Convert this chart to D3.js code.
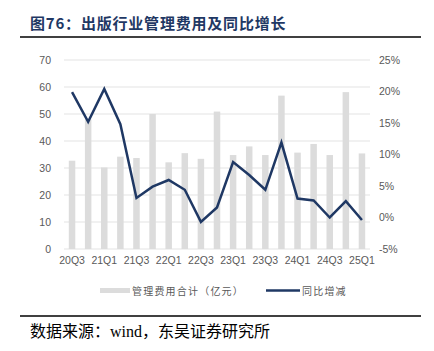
<!DOCTYPE html>
<html>
<head>
<meta charset="utf-8">
<script src="https://cdn.jsdelivr.net/npm/d3@7"></script>
<style>
  body { margin: 0; background: #fff; }
  svg { display: block; }
</style>
</head>
<body>
<div id="chart"></div>
<script>
const quarters = ["20Q3","20Q4","21Q1","21Q2","21Q3","21Q4","22Q1","22Q2","22Q3","22Q4",
                  "23Q1","23Q2","23Q3","23Q4","24Q1","24Q2","24Q3","24Q4","25Q1"];
const expense = [32.7, 48, 30.2, 34.2, 33.7, 50, 32.1, 35.5, 33.4, 50.9,
                 34.8, 38.0, 34.8, 56.8, 35.7, 38.9, 34.8, 58.1, 35.4];
const yoy = [19.9, 15.2, 20.4, 14.8, 3.1, 4.9, 5.95, 4.4, -0.7, 1.6,
             8.8, 6.75, 4.4, 11.9, 3.0, 2.7, 0.0, 2.6, -0.4];
const leftTicks = [0, 10, 20, 30, 40, 50, 60, 70];
const rightTicks = [-5, 0, 5, 10, 15, 20, 25];

const width = 434, height = 351;
const plot = { left: 64, right: 370, top: 60, bottom: 249 };
const grey = "#595959";
const navy = "#1f3864";

const svg = d3.select("#chart").append("svg")
    .attr("width", width)
    .attr("height", height);

// title
svg.append("text")
    .attr("x", 30).attr("y", 29)
    .attr("fill", navy)
    .attr("font-family", "'Noto Sans CJK SC', sans-serif")
    .attr("font-weight", "bold")
    .attr("font-size", 15)
    .attr("letter-spacing", 0.8)
    .text("图76：出版行业管理费用及同比增长");
svg.append("line")
    .attr("x1", 20).attr("x2", 421).attr("y1", 37).attr("y2", 37)
    .attr("stroke", "#000").attr("stroke-width", 1.5);

const x = d3.scaleBand()
    .domain(quarters)
    .range([plot.left, plot.right]);

const yL = d3.scaleLinear().domain([0, 70]).range([plot.bottom, plot.top]);
const yR = d3.scaleLinear().domain([-5, 25]).range([plot.bottom, plot.top]);

// gridlines
svg.append("g").selectAll("line")
    .data(leftTicks)
    .join("line")
    .attr("x1", plot.left).attr("x2", plot.right)
    .attr("y1", d => yL(d)).attr("y2", d => yL(d))
    .attr("stroke", "#e3e3e3").attr("stroke-width", 1);

// bars
const barW = 6.5;
svg.append("g").selectAll("rect")
    .data(expense)
    .join("rect")
    .attr("x", (d, i) => x(quarters[i]) + x.bandwidth() / 2 - barW / 2)
    .attr("y", d => yL(d))
    .attr("width", barW)
    .attr("height", d => yL(0) - yL(d))
    .attr("fill", "#dcdcdc");

// line
const line = d3.line()
    .x((d, i) => x(quarters[i]) + x.bandwidth() / 2)
    .y(d => yR(d));
svg.append("path")
    .datum(yoy)
    .attr("d", line)
    .attr("fill", "none")
    .attr("stroke", navy)
    .attr("stroke-width", 2.5)
    .attr("stroke-linejoin", "miter");

// axes
const tickFont = "'Liberation Sans', Arial, sans-serif";
const axL = svg.append("g")
    .attr("transform", `translate(${plot.left},0)`)
    .call(d3.axisLeft(yL).tickValues(leftTicks).tickSize(0).tickPadding(13));
const axR = svg.append("g")
    .attr("transform", `translate(${plot.right},0)`)
    .call(d3.axisRight(yR).tickValues(rightTicks).tickSize(0).tickPadding(9)
        .tickFormat(d => d + "%"));
const xLabels = quarters.filter((q, i) => i % 2 === 0);
const axB = svg.append("g")
    .attr("transform", `translate(0,${plot.bottom})`)
    .call(d3.axisBottom(x).tickValues(xLabels).tickSize(0).tickPadding(8));

[axL, axR, axB].forEach(a => {
    a.select(".domain").remove();
    a.selectAll("text")
        .attr("fill", grey)
        .attr("font-family", tickFont)
        .attr("font-size", 10.5);
});

// legend
const legend = svg.append("g")
    .attr("font-family", "'Noto Sans CJK SC', sans-serif")
    .attr("font-size", 10)
    .attr("letter-spacing", 1.2)
    .attr("fill", grey);
legend.append("rect")
    .attr("x", 100).attr("y", 288).attr("width", 30).attr("height", 5)
    .attr("fill", "#dcdcdc");
legend.append("text")
    .attr("x", 132).attr("y", 294.5)
    .text("管理费用合计（亿元）");
legend.append("line")
    .attr("x1", 266).attr("x2", 300).attr("y1", 290.5).attr("y2", 290.5)
    .attr("stroke", navy).attr("stroke-width", 2.5);
legend.append("text")
    .attr("x", 302).attr("y", 294.5)
    .text("同比增减");

// source
svg.append("line")
    .attr("x1", 20).attr("x2", 421).attr("y1", 316).attr("y2", 316)
    .attr("stroke", "#000").attr("stroke-width", 1.5);
svg.append("text")
    .attr("x", 30).attr("y", 337)
    .attr("fill", "#000")
    .attr("font-family", "'Liberation Serif', 'Noto Sans CJK SC', serif")
    .attr("font-size", 16)
    .text("数据来源：wind，东吴证券研究所");
</script>
</body>
</html>
